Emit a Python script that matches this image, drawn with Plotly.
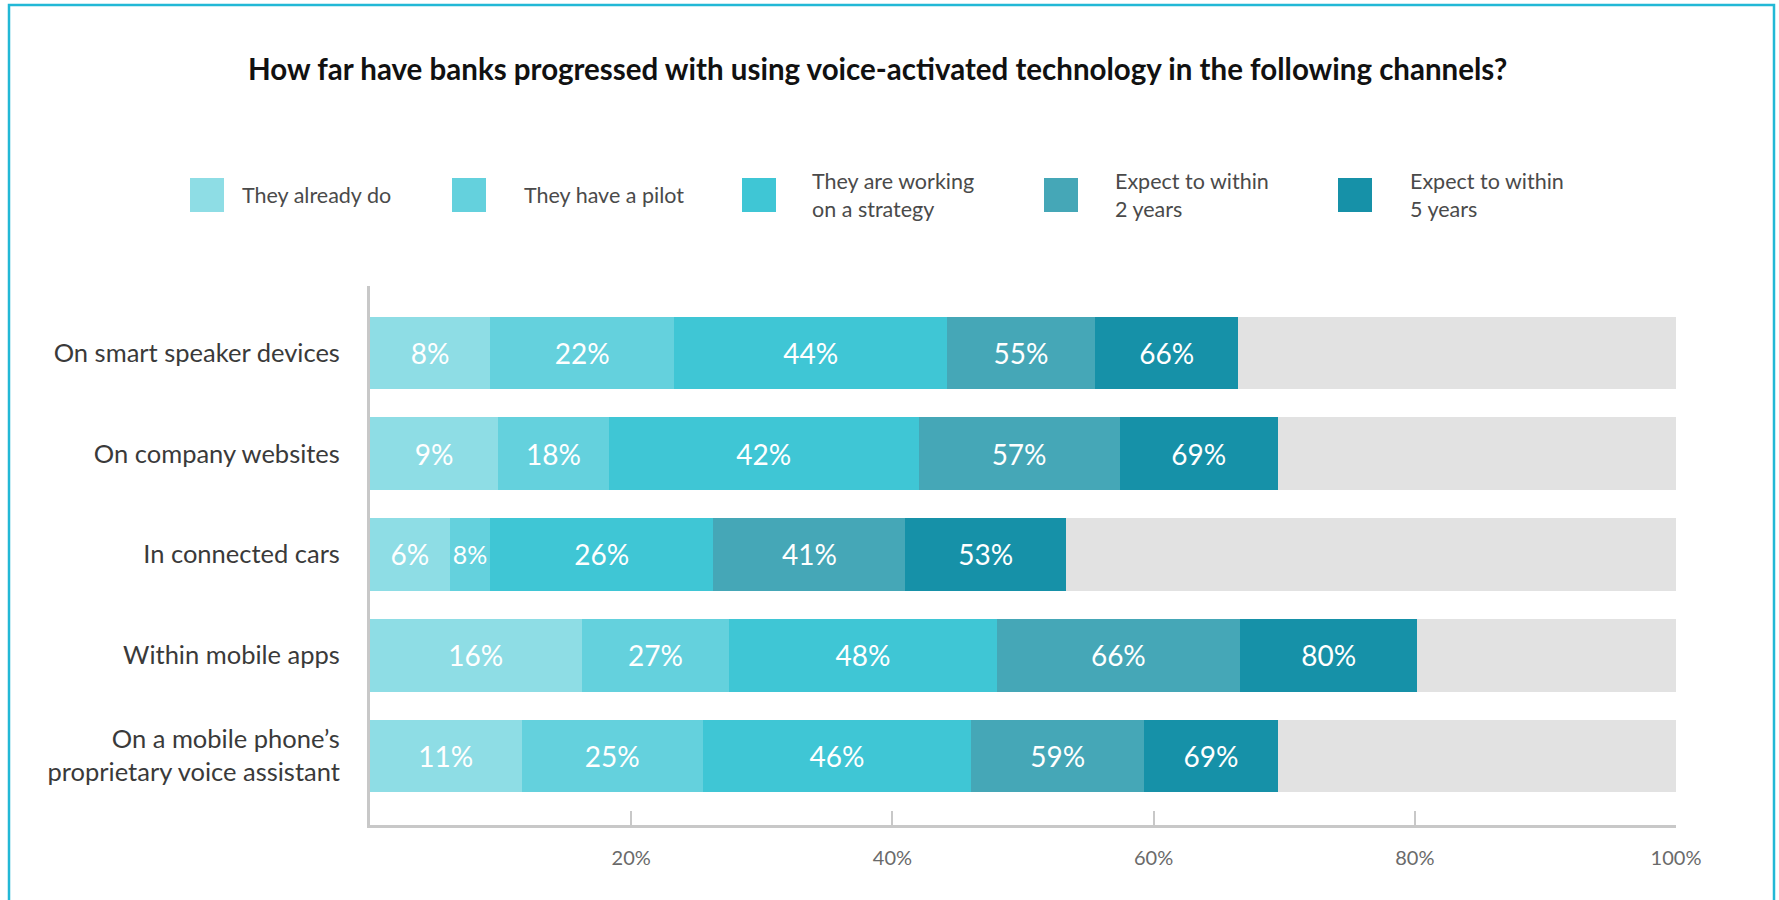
import plotly.graph_objects as go

# ---------------- data ----------------
categories = [
    "On smart speaker devices",
    "On company websites",
    "In connected cars",
    "Within mobile apps",
    "On a mobile phone’s<br>proprietary voice assistant",
]
series_names = [
    "They already do",
    "They have a pilot",
    "They are working<br>on a strategy",
    "Expect to within<br>2 years",
    "Expect to within<br>5 years",
]
# cumulative bar ends as drawn (% of axis)
already_do_end = [9.2, 9.8, 6.1, 16.2, 11.6]
pilot_end = [23.3, 18.3, 9.2, 27.5, 25.5]
strategy_end = [44.2, 42.0, 26.3, 48.0, 46.0]
two_years_end = [55.5, 57.4, 41.0, 66.6, 59.3]
five_years_end = [66.5, 69.5, 53.3, 80.2, 69.5]
# printed (cumulative) labels
already_do_lbl = [8, 9, 6, 16, 11]
pilot_lbl = [22, 18, 8, 27, 25]
strategy_lbl = [44, 42, 26, 48, 46]
two_years_lbl = [55, 57, 41, 66, 59]
five_years_lbl = [66, 69, 53, 80, 69]
total = [100, 100, 100, 100, 100]

tick_vals = [20, 40, 60, 80, 100]
tick_text = ["20%", "40%", "60%", "80%", "100%"]

colors = ["#8EDDE5", "#64D1DD", "#3FC6D5", "#45A7B7", "#1691A8"]
rest_color = "#E2E2E2"

ends = [already_do_end, pilot_end, strategy_end, two_years_end, five_years_end]
labels = [already_do_lbl, pilot_lbl, strategy_lbl, two_years_lbl, five_years_lbl]

# ---------------- geometry (page pixels) ----------------
W, H = 1779, 900
PX0, PX1 = 370, 1676     # plot area left/right
PY0, PY1 = 286, 825      # plot area top/bottom
FONT = "Lato"


def px(x):
    return (x - PX0) / (PX1 - PX0)


def py(y):
    return (PY1 - y) / (PY1 - PY0)


ypos = list(range(len(categories)))

fig = go.Figure()
prev = [0] * len(categories)
for name, end, lbl, col in zip(series_names, ends, labels, colors):
    fig.add_trace(go.Bar(
        y=ypos, x=[e - p for e, p in zip(end, prev)], base=prev,
        orientation="h", name=name.replace("<br>", " "),
        marker=dict(color=col, line=dict(width=0)),
        text=[f"{v}%" for v in lbl], textposition="inside", textangle=0,
        insidetextanchor="middle", constraintext="inside",
        textfont=dict(family=FONT, size=28, color="white"),
        width=0.72, showlegend=False, hoverinfo="skip",
    ))
    prev = end
fig.add_trace(go.Bar(
    y=ypos, x=[t - p for t, p in zip(total, prev)], base=prev,
    orientation="h", marker=dict(color=rest_color, line=dict(width=0)),
    width=0.72, showlegend=False, hoverinfo="skip",
))

# ---------------- legend (manual) ----------------
sq_cx = [207, 469, 759, 1061, 1355]
txt_x = [240, 522, 810, 1113, 1408]
leg_y = 195
half = 17
shapes = []
annotations = []
for cx, tx, name, col in zip(sq_cx, txt_x, series_names, colors):
    shapes.append(dict(type="rect", xref="paper", yref="paper",
                       x0=px(cx - half), x1=px(cx + half),
                       y0=py(leg_y + half), y1=py(leg_y - half),
                       fillcolor=col, line=dict(width=0)))
    annotations.append(dict(xref="paper", yref="paper", x=px(tx), y=py(leg_y),
                            xanchor="left", yanchor="middle", align="left",
                            text=name, showarrow=False,
                            font=dict(family=FONT, size=21.5, color="#4a4a4a")))

# title
annotations.append(dict(xref="paper", yref="paper", x=px(877), y=py(68),
                        xanchor="center", yanchor="middle", showarrow=False,
                        text="<b>How far have banks progressed with using voice-activated technology in the following channels?</b>",
                        font=dict(family=FONT, size=29.5, color="#111111")))

# outer border
shapes.append(dict(type="rect", xref="paper", yref="paper",
                   x0=px(9), x1=px(1774), y0=py(915), y1=py(5),
                   line=dict(color="#22B8D6", width=2.5), fillcolor="rgba(0,0,0,0)",
                   layer="above"))

fig.update_layout(
    width=W, height=H,
    margin=dict(l=PX0, r=W - PX1, t=PY0, b=H - PY1, pad=0),
    barmode="overlay", bargap=0,
    paper_bgcolor="white", plot_bgcolor="white",
    font=dict(family=FONT, color="#333333"),
    shapes=shapes, annotations=annotations,
    showlegend=False,
    uniformtext=dict(mode=False),
)
fig.update_xaxes(
    range=[0, 100], showgrid=False, zeroline=False,
    showline=True, linecolor="#C8C8C8", linewidth=3,
    ticks="inside", ticklen=14, tickwidth=2, tickcolor="#C8C8C8",
    tickvals=tick_vals, ticktext=tick_text, ticklabelstandoff=13,
    tickfont=dict(family=FONT, size=20, color="#6a6a6a"),
    fixedrange=True,
)
fig.update_yaxes(
    range=[4.685, -0.665], showgrid=False, zeroline=False,
    showline=True, linecolor="#C8C8C8", linewidth=3,
    tickvals=ypos, ticktext=categories, ticks="",
    ticklabelstandoff=22,
    tickfont=dict(family=FONT, size=25.5, color="#3a3a3a"),
    fixedrange=True,
)

fig.write_html(
    "out.html",
    config={"displayModeBar": False, "staticPlot": True},
    post_script="document.body.style.margin='0';document.body.style.overflow='hidden';",
)
